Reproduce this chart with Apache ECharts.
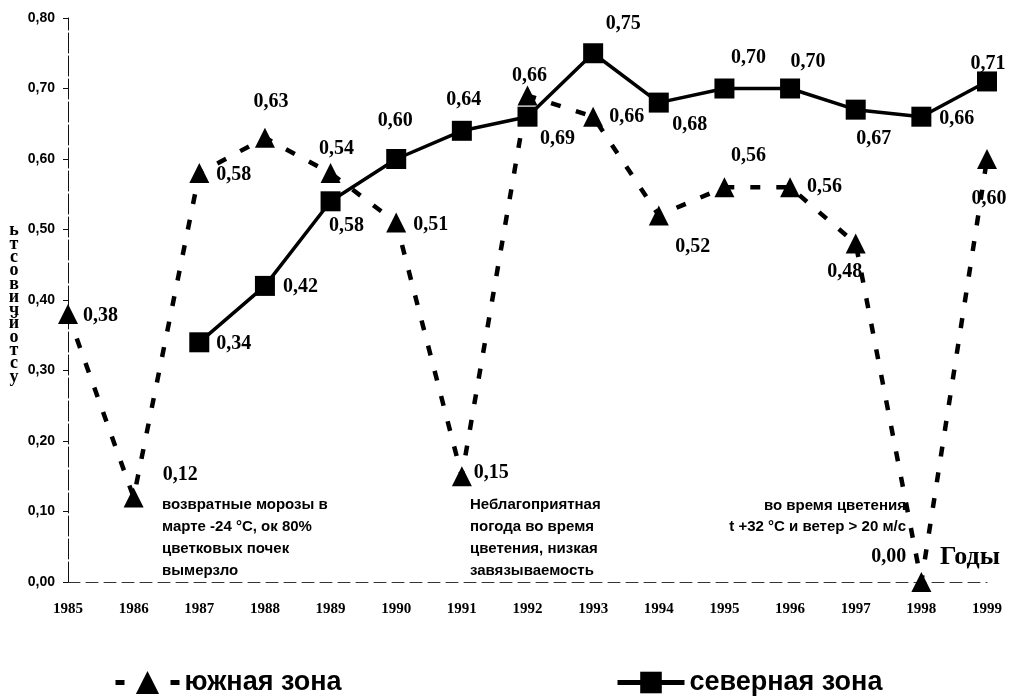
<!DOCTYPE html>
<html><head><meta charset="utf-8">
<script src="https://cdn.jsdelivr.net/npm/echarts@6/dist/echarts.min.js"></script>
<style>html,body{margin:0;padding:0;background:#fff}#c{width:1011px;height:698px}</style>
</head><body><div id="c"></div>
<script>
const years = ['1985','1986','1987','1988','1989','1990','1991','1992','1993','1994','1995','1996','1997','1998','1999'];
const southValues = [0.38,0.12,0.58,0.63,0.58,0.51,0.15,0.69,0.66,0.52,0.56,0.56,0.48,0.00,0.60];
const southLabels = ['0,38','0,12','0,58','0,63','0,54','0,51','0,15','0,66','0,66','0,52','0,56','0,56','0,48','0,00','0,60'];
const northValues = [null,null,0.34,0.42,0.54,0.60,0.64,0.66,0.75,0.68,0.70,0.70,0.67,0.66,0.71];
const northLabels = ['','','0,34','0,42','0,58','0,60','0,64','0,69','0,75','0,68','0,70','0,70','0,67','0,66','0,71'];
const yTicks = [0,0.1,0.2,0.3,0.4,0.5,0.6,0.7,0.8];

// label placement (layout only)
const southPlace = [['right',[0,2]],['right',[14,-23]],['right',[2,2]],['top',[6,-11]],['top',[6,1]],['right',[2,2]],['right',[-3,-3]],['top',[2,5]],['right',[1,0]],['bottom',[34,6]],['top',[24,-6]],['right',[2,0]],['bottom',[-11,3]],['left',[0,-25]],['bottom',[2,15]]];
const northPlace = [null,null,['right',[2,2]],['right',[3,1]],['bottom',[16,0]],['top',[-1,-13]],['top',[2,-6]],['bottom',[30,-3]],['top',[30,-4]],['bottom',[31,-3]],['top',[24,-6]],['top',[18,-2]],['bottom',[18,4]],['right',[3,2]],['top',[1,7]]];

const labelFont = {fontFamily:'Liberation Serif', fontWeight:'bold', fontSize:20, color:'#000'};
function build(vals, labels, place){
  return vals.map((v,i)=>{
    if(v===null) return null;
    const p = place[i];
    return {value:v, label:Object.assign({show:true, formatter:labels[i], position:p[0], offset:p[1], distance:5}, labelFont)};
  });
}
const annFont = 'bold 15px "Liberation Sans", sans-serif';
const legendText = {fontFamily:'"Liberation Sans", sans-serif',fontWeight:'bold',fontSize:27,color:'#000'};
const chart = echarts.init(document.getElementById('c'));
chart.setOption({
  animation:false,
  backgroundColor:'#fff',
  grid:{left:68,right:24,top:18,bottom:116},
  xAxis:{type:'category',data:years,boundaryGap:false,
    axisLine:{lineStyle:{color:'#333',width:1,type:[12,6]}},
    axisTick:{show:false},
    axisLabel:{margin:20,fontFamily:'Liberation Serif',fontWeight:'bold',fontSize:15,color:'#000'},
    splitLine:{show:false}},
  yAxis:{type:'value',min:0,max:0.8,interval:0.1,
    axisLine:{show:true,lineStyle:{color:'#111',width:1,type:[20,3]}},
    axisTick:{show:true,length:5,lineStyle:{color:'#111'}},
    axisLabel:{margin:13,fontFamily:'Liberation Sans',fontWeight:'bold',fontSize:14,color:'#000',
      formatter:v=>v.toFixed(2).replace('.',',')},
    splitLine:{show:false}},
  legend:[
    {data:[{name:'южная зона',lineStyle:{type:[9,46],width:5}}],left:108,top:664,padding:5,itemWidth:64,itemHeight:29,
     textStyle:legendText},
    {data:[{name:'северная зона',lineStyle:{width:5}}],left:610,top:664,padding:5,itemWidth:67,itemHeight:27,
     textStyle:legendText}
  ],
  series:[
    {name:'северная зона',type:'line',data:build(northValues,northLabels,northPlace),
     symbol:'rect',symbolSize:20,itemStyle:{color:'#000'},
     lineStyle:{color:'#000',width:3.5,type:'solid'},z:3},
    {name:'южная зона',type:'line',data:build(southValues,southLabels,southPlace),
     symbol:'triangle',symbolSize:20,itemStyle:{color:'#000'},
     lineStyle:{color:'#000',width:4.5,type:[10,16],cap:'butt'},z:2}
  ],
  graphic:[
    {type:'text',x:14,y:224,style:{text:'ь\nт\nс\nо\nв\nи\nч\nй\nо\nт\nс\nу',font:'bold 18px "Liberation Serif", serif',lineHeight:13.3,fill:'#000',align:'center',verticalAlign:'top'}},
    {type:'text',x:162,y:494,style:{text:'возвратные морозы в\nмарте -24 °С, ок 80%\nцветковых почек\nвымерзло',font:annFont,lineHeight:22,fill:'#000',verticalAlign:'top'}},
    {type:'text',x:470,y:494,style:{text:'Неблагоприятная\nпогода во время\nцветения, низкая\nзавязываемость',font:annFont,lineHeight:22,fill:'#000',verticalAlign:'top'}},
    {type:'text',x:906,y:506,style:{text:'во время цветения',font:annFont,fill:'#000',align:'right',verticalAlign:'middle'}},
    {type:'text',x:906,y:527,style:{text:'t +32 °С и ветер > 20 м/с',font:annFont,fill:'#000',align:'right',verticalAlign:'middle'}},
    {type:'text',x:940,y:557,style:{text:'Годы',font:'bold 26px "Liberation Serif", serif',fill:'#000',verticalAlign:'middle'}}
  ]
});
</script></body></html>
